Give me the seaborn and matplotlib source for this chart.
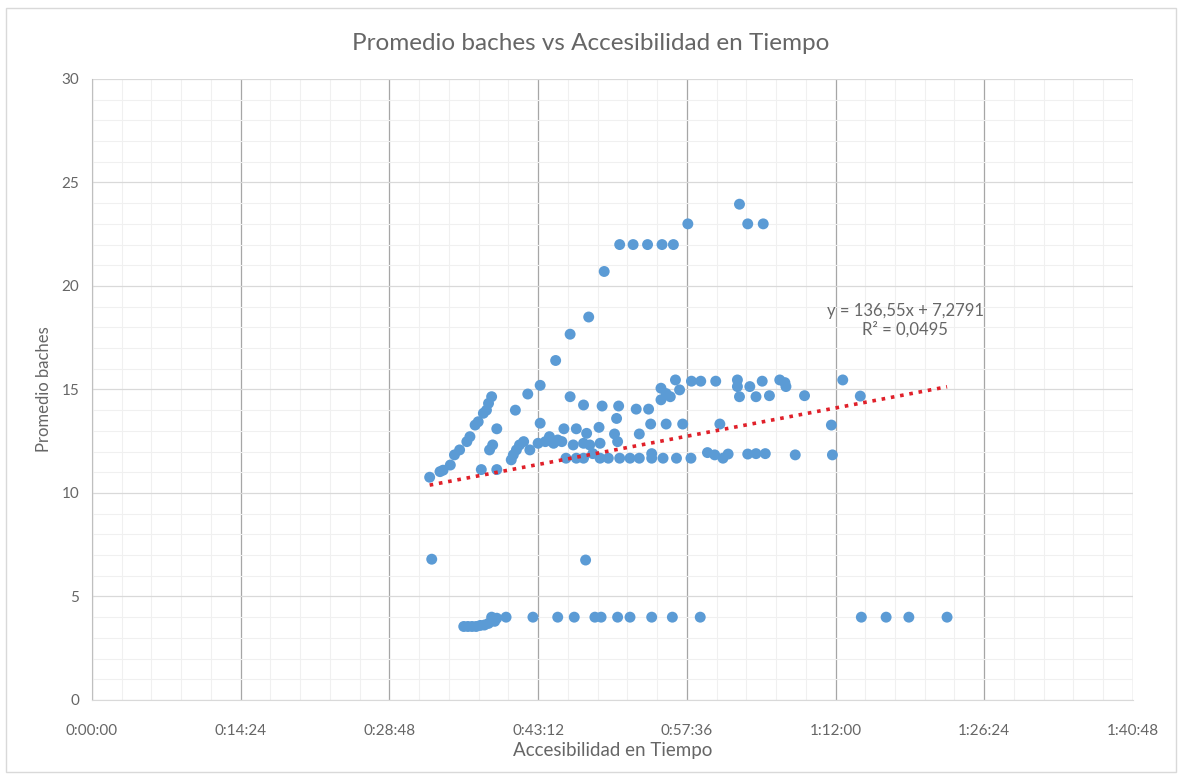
import numpy as np
import pandas as pd
import matplotlib
matplotlib.use("Agg")
import matplotlib.pyplot as plt
import matplotlib.ticker as mticker
from matplotlib.patches import Rectangle
import seaborn as sns

# Accessibility time in minutes and average potholes per sample
minutos = [
    32.7, 33.7, 34.0, 34.7, 35.1, 35.6, 36.3, 36.6, 37.1, 37.4, 37.9, 38.2, 38.4, 38.7,
    39.2, 38.5, 38.8, 37.7, 39.2,
    41.0, 42.2, 43.4, 43.4,
    40.6, 40.8, 41.1, 41.4, 41.8, 42.4,
    43.2, 43.9, 44.3, 44.7, 45.1, 45.5,
    45.7, 46.9, 47.9, 46.3, 47.6,
    46.6, 47.6, 48.2,
    45.9, 46.9, 47.6, 48.5,
    49.1, 49.2, 49.4, 50.8, 50.6, 50.9, 51.0, 52.7, 53.9, 53.0,
    54.1, 55.6, 57.2, 60.8, 71.6,
    55.1, 55.6, 56.9, 55.1, 56.0, 56.5, 58.05, 58.95, 60.4,
    62.5, 62.5, 63.7, 64.9, 66.6, 67.1, 67.2,
    62.7, 64.3, 65.6, 69.0, 72.7, 74.4,
    49.2, 50.0, 51.1, 52.1, 53.0, 54.2, 54.2, 55.3, 56.6, 58.0,
    59.6, 60.3, 61.1, 61.6, 63.5, 64.3, 65.2, 68.1, 71.7,
    44.9, 46.3, 48.1, 49.6, 51.1, 52.4, 53.8, 55.2, 56.3, 57.7, 62.7, 63.5, 65.0,
    32.9, 47.8,
    36.0, 36.4, 36.8, 37.2, 37.6, 38.0, 38.4, 38.7, 39.0, 39.2, 40.1, 42.7,
    45.1, 46.7, 48.7, 49.3, 50.9, 52.1, 54.2, 56.2, 58.9, 74.5, 76.9, 79.1, 82.8,
]
baches = [
    10.76, 11.03, 11.1, 11.35, 11.84, 12.08, 12.48, 12.72, 13.28, 13.44, 13.85, 14.0, 14.33, 14.65,
    13.1, 12.08, 12.32, 11.13, 11.13,
    14.0, 14.78, 15.2, 13.37,
    11.6, 11.84, 12.08, 12.32, 12.48, 12.08,
    12.4, 12.48, 12.72, 12.4, 12.56, 12.48,
    13.1, 13.1, 12.88, 14.65, 14.25,
    12.32, 12.4, 12.32,
    11.68, 11.68, 11.68, 11.9,
    13.17, 12.4, 14.2, 13.6, 12.85, 12.48, 14.2, 14.05, 14.05, 12.85,
    13.33, 13.33, 13.33, 13.33, 13.28,
    15.06, 14.8, 14.98, 14.5, 14.65, 15.46, 15.4, 15.4, 15.4,
    15.46, 15.14, 15.14, 15.4, 15.46, 15.33, 15.14,
    14.65, 14.65, 14.7, 14.7, 15.46, 14.68,
    11.68, 11.68, 11.68, 11.68, 11.68, 11.9, 11.68, 11.68, 11.68, 11.68,
    11.95, 11.84, 11.68, 11.88, 11.88, 11.9, 11.9, 11.84, 11.84,
    16.4, 17.67, 18.5, 20.7, 22.0, 22.0, 22.0, 22.0, 22.0, 23.0, 23.95, 23.0, 23.0,
    6.8, 6.76,
    3.55, 3.55, 3.55, 3.55, 3.6, 3.62, 3.7, 4.0, 3.8, 3.95, 4.0, 4.0,
    4.0, 4.0, 4.0, 4.0, 4.0, 4.0, 4.0, 4.0, 4.0, 4.0, 4.0, 4.0, 4.0,
]

# Linear trend stated on the chart (x in days)
pendiente = 136.55
intercepto = 7.2791
r2 = 0.0495

x_ticks_dias = [0.00, 0.01, 0.02, 0.03, 0.04, 0.05, 0.06, 0.07]

df = pd.DataFrame({"tiempo": np.array(minutos) / 1440.0, "baches": baches})

sns.set_style("white")
plt.rcParams["font.family"] = ["Lato", "DejaVu Sans"]

fig = plt.figure(figsize=(11.82, 7.78), dpi=100)
ax = fig.add_axes([0.0778, 0.1003, 0.8807, 0.7982])

txt = "#666666"

# grid
ax.set_xlim(0, 0.07)
ax.set_ylim(0, 30)
ax.xaxis.set_major_locator(mticker.FixedLocator(x_ticks_dias))
ax.xaxis.set_minor_locator(mticker.MultipleLocator(0.002))
ax.yaxis.set_major_locator(mticker.MultipleLocator(5))
ax.yaxis.set_minor_locator(mticker.MultipleLocator(1))
ax.grid(which="minor", color="#F0F0F0", linewidth=0.8)
ax.grid(which="major", axis="y", color="#D9D9D9", linewidth=0.9)
ax.grid(which="major", axis="x", color="#A6A6A6", linewidth=0.9)
ax.set_axisbelow(True)


def fmt_tiempo(v, pos):
    s = int(round(v * 86400))
    return f"{s // 3600}:{(s % 3600) // 60:02d}:{s % 60:02d}"


ax.xaxis.set_major_formatter(mticker.FuncFormatter(fmt_tiempo))

sns.scatterplot(data=df, x="tiempo", y="baches", ax=ax, color="#5B9BD5",
                s=62, edgecolor="none", linewidth=0, zorder=3, legend=False)

# trend line over the data range
xt = np.array([df["tiempo"].min(), df["tiempo"].max()])
ax.plot(xt, pendiente * xt + intercepto, linestyle=(0, (1, 1.6)), color="#E0202A",
        linewidth=2.6, zorder=4)

ax.text(0.0547, 19.2,
        "y = 136,55x + 7,2791\nR² = 0,0495", ha="center", va="top",
        fontsize=12, color=txt, linespacing=1.2, zorder=5)

for sp in ["top", "right"]:
    ax.spines[sp].set_visible(False)
ax.spines["left"].set_color("#BFBFBF")
ax.spines["bottom"].set_color("#D9D9D9")
ax.tick_params(axis="both", which="both", length=0, labelsize=11, labelcolor=txt)
ax.tick_params(axis="x", pad=17)
ax.tick_params(axis="y", pad=9)

ax.set_xlabel("Accesibilidad en Tiempo", fontsize=13.5, color=txt, labelpad=3)
ax.set_ylabel("Promedio baches", fontsize=12, color=txt, labelpad=7)
fig.suptitle("Promedio baches vs Accesibilidad en Tiempo", fontsize=17.5,
             color=txt, y=0.958)

fig.patches.append(Rectangle((0.005, 0.008), 0.99, 0.982, transform=fig.transFigure,
                             fill=False, edgecolor="#D9D9D9", linewidth=1.0))

fig.savefig("out.png", dpi=100, facecolor="white")
